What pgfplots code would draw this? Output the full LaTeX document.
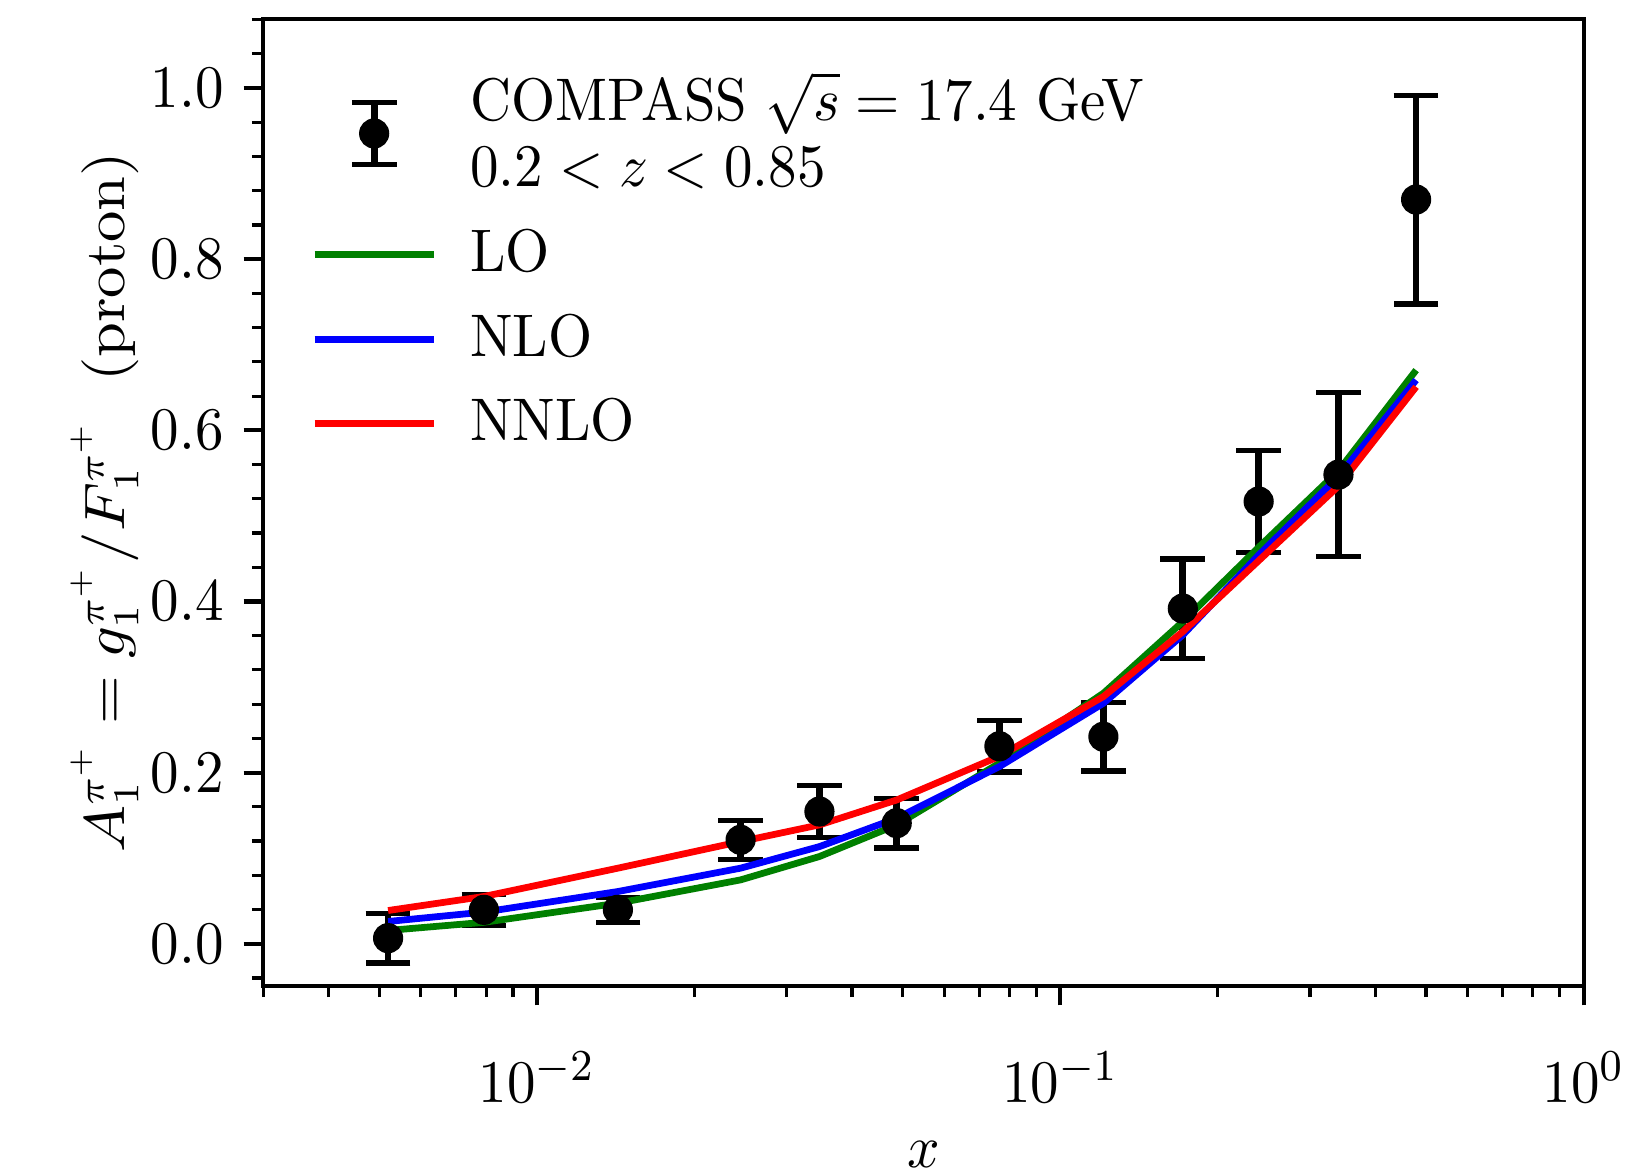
\documentclass[border=0pt]{standalone}
\usepackage{graphicx}
\usepackage{pgfplots}
\pgfplotsset{compat=1.18}
\usepackage{pgfplotstable}
\definecolor{mplgreen}{RGB}{0,128,0}

% text is set slightly taller than wide
\newcommand{\tall}[1]{\scalebox{1}[1.06]{#1}}

\pgfplotsset{
  shortline legend/.style={
    legend image code/.code={\draw[##1] (0pt,0pt) -- (22.9pt,0pt);}},
  errbar legend/.style={
    legend image code/.code={
      \draw[black, line width=1.3pt] (11.45pt,-6pt) -- (11.45pt,6pt);
      \draw[black, line width=1pt] (7.15pt,-6pt) -- (15.75pt,-6pt);
      \draw[black, line width=1pt] (7.15pt,6pt) -- (15.75pt,6pt);
      \fill[black] (11.45pt,0pt) circle[radius=2.7pt];}},
}

% COMPASS pi+ asymmetry on the proton: x, value, uncertainty
\pgfplotstableread{
x        y       e
0.005195 0.0065  0.029
0.00792  0.0396  0.018
0.01428  0.0396  0.0145
0.0245   0.1214  0.0226
0.03466  0.1545  0.030
0.0487   0.1409  0.029
0.07651  0.2308  0.030
0.1209   0.2419  0.040
0.1715   0.3917  0.058
0.2394   0.5168  0.060
0.3401   0.5482  0.096
0.4786   0.8697  0.122
}\compass

% theory curves at LO, NLO and NNLO
\pgfplotstableread{
x        lo      nlo     nnlo
0.005195 0.0155  0.0260  0.0388
0.00792  0.0250  0.0370  0.0552
0.01428  0.0474  0.0610  0.0883
0.0245   0.0746  0.0883  0.1194
0.03466  0.1019  0.1135  0.1389
0.0487   0.1389  0.1467  0.1680
0.07651  0.2110  0.2070  0.2190
0.1209   0.2927  0.2810  0.2888
0.1715   0.3764  0.3608  0.3647
0.2394   0.4633  0.4542  0.4476
0.3401   0.5526  0.5460  0.5348
0.4786   0.6703  0.6587  0.6508
}\curves

\begin{document}
\fontsize{10.9}{12.8}\selectfont
\begin{tikzpicture}
\begin{axis}[
  scale only axis,
  width=253.7pt, height=185.8pt,
  xmode=log, xmin=0.003, xmax=1,
  ymin=-0.049, ymax=1.081,
  xtick={0.01,0.1,1},
  xticklabels={\tall{$10^{-2}$},\tall{$10^{-1}$},\tall{$10^{0}$}},
  minor xtick={0.003,0.004,0.005,0.006,0.007,0.008,0.009,
               0.02,0.03,0.04,0.05,0.06,0.07,0.08,0.09,
               0.2,0.3,0.4,0.5,0.6,0.7,0.8,0.9},
  ytick={0,0.2,0.4,0.6,0.8,1.0},
  yticklabels={\tall{$0.0$},\tall{$0.2$},\tall{$0.4$},\tall{$0.6$},\tall{$0.8$},\tall{$1.0$}},
  minor ytick={-0.04,0.04,0.08,0.12,0.16,0.24,0.28,0.32,0.36,0.44,0.48,0.52,0.56,
               0.64,0.68,0.72,0.76,0.84,0.88,0.92,0.96,1.04,1.08},
  xticklabel style={yshift=-5.2pt},
  tick pos=left,
  tick align=outside,
  major tick length=3.8pt,
  minor tick length=2.2pt,
  every major tick/.style={black, line width=0.8pt},
  every minor tick/.style={black, line width=0.6pt},
  axis line style={line width=0.8pt},
  xlabel={\tall{$x$}},
  ylabel={\fontsize{10.5}{12}\selectfont\scalebox{1.1}[1]{$A_1^{\pi^+} = g_1^{\pi^+}/F_1^{\pi^+}\ \;(\mathrm{proton})$}},
  xlabel style={at={(axis description cs:0.5,-0.1885)}, anchor=base},
  ylabel style={at={(axis description cs:-0.1202,0.5)}, anchor=center},
  legend cell align=left,
  legend style={at={(axis description cs:0,1)}, anchor=north west,
    xshift=6pt, yshift=-6pt,
    draw=none, fill=none, row sep=2.5pt, column sep=4.4pt,
    nodes={align=left}},
]
\addplot[black, only marks, mark=*, mark size=2.7pt, errbar legend,
  error bars/.cd, y dir=both, y explicit,
  error bar style={line width=1.3pt},
  error mark options={rotate=90, mark size=4.3pt, line width=1pt}]
  table[x=x, y=y, y error=e] {\compass};
\addlegendentry{\tall{COMPASS $\sqrt{s} = 17.4$ GeV}\\\tall{$0.2 < z < 0.85$}}

\addplot[mplgreen, line width=1.3pt, shortline legend]
  table[x=x, y=lo] {\curves};
\addlegendentry{\tall{LO}}
\addplot[blue, line width=1.3pt, shortline legend]
  table[x=x, y=nlo] {\curves};
\addlegendentry{\tall{NLO}}
\addplot[red, line width=1.3pt, shortline legend]
  table[x=x, y=nnlo] {\curves};
\addlegendentry{\tall{NNLO}}
\end{axis}
\pgfresetboundingbox
\path ([shift={(-50.6pt,-35.6pt)}]current axis.south west)
  rectangle ([shift={(10.65pt,3.6pt)}]current axis.north east);
\end{tikzpicture}
\end{document}
